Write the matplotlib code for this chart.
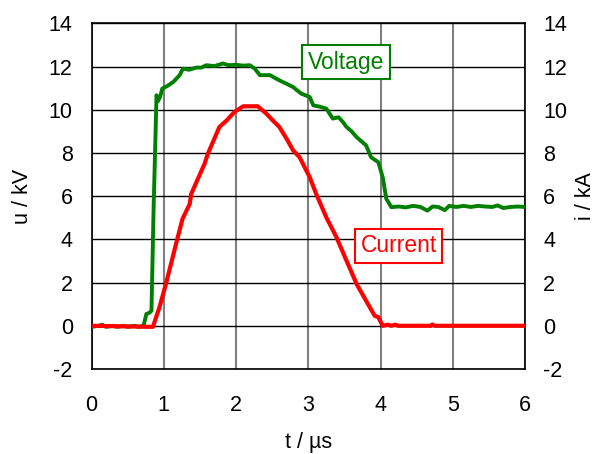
import matplotlib
matplotlib.use("Agg")
import matplotlib.pyplot as plt

plt.rcParams['font.family'] = ['Liberation Sans', 'DejaVu Sans']
plt.rcParams['axes.unicode_minus'] = False

# Voltage (kV) vs time (us)
t_v = [0.0, 0.1, 0.15, 0.2, 0.3, 0.35, 0.45, 0.5, 0.6, 0.65, 0.72, 0.76, 0.8, 0.83,
       0.86, 0.9, 0.92, 0.95, 0.98, 1.05, 1.13, 1.22, 1.265, 1.35, 1.45, 1.52, 1.59,
       1.7, 1.82, 1.9, 2.0, 2.1, 2.19, 2.26, 2.33, 2.47, 2.55, 2.6, 2.7, 2.79, 2.9,
       3.02, 3.07, 3.15, 3.25, 3.34, 3.42, 3.48, 3.53, 3.6, 3.67, 3.8, 3.87, 3.97,
       4.03, 4.08, 4.15, 4.25, 4.35, 4.45, 4.55, 4.65, 4.72, 4.8, 4.89, 4.95, 5.05,
       5.15, 5.25, 5.35, 5.45, 5.55, 5.62, 5.7, 5.8, 5.9, 6.0]
u_v = [-0.05, 0.0, 0.05, -0.05, 0.0, -0.05, 0.0, -0.05, 0.0, -0.05, 0.0, 0.55, 0.6, 0.7,
       5.5, 10.67, 10.4, 10.6, 10.98, 11.1, 11.28, 11.6, 11.9, 11.85, 11.95, 11.95, 12.06,
       12.02, 12.14, 12.06, 12.08, 12.04, 12.06, 11.9, 11.6, 11.6, 11.45, 11.36, 11.2, 11.05, 10.75,
       10.59, 10.2, 10.15, 10.05, 9.59, 9.65, 9.43, 9.2, 9.0, 8.73, 8.35, 7.8, 7.57,
       6.88, 5.88, 5.49, 5.52, 5.48, 5.55, 5.5, 5.33, 5.52, 5.5, 5.35, 5.55, 5.5,
       5.55, 5.5, 5.55, 5.52, 5.5, 5.57, 5.45, 5.5, 5.52, 5.5]

# Current (kA) vs time (us)
t_i = [0.0, 0.85, 0.94, 1.03, 1.17, 1.26, 1.36, 1.38, 1.565, 1.61, 1.77, 1.87, 1.98,
       2.10, 2.30, 2.42, 2.51, 2.60, 2.70, 2.79, 2.88, 3.02, 3.11, 3.25, 3.39, 3.53,
       3.67, 3.80, 3.92, 3.97, 4.03, 4.1, 4.15, 4.2, 4.25, 4.7, 4.72, 4.75, 6.0]
i_a = [0.0, -0.05, 0.85, 1.93, 3.79, 4.95, 5.64, 6.1, 7.5, 7.96, 9.2, 9.5, 9.9,
       10.16, 10.16, 9.82, 9.5, 9.2, 8.66, 8.12, 7.8, 6.88, 6.1, 5.02, 4.1, 3.01,
       1.93, 1.16, 0.46, 0.4, 0.0, 0.05, 0.0, 0.05, 0.0, 0.0, 0.06, 0.0, 0.0]

x_ticks = [0, 1, 2, 3, 4, 5, 6]
y_ticks = [-2, 0, 2, 4, 6, 8, 10, 12, 14]

fig = plt.figure(figsize=(5.99, 4.54), dpi=100)
ax = fig.add_axes([91.5 / 599, 1 - 369 / 454, (525 - 91.5) / 599, (369 - 23.3) / 454])

ax.set_xlim(0, 6)
ax.set_ylim(-2, 14)
ax.set_xticks(x_ticks)
ax.set_yticks(y_ticks)
for x in x_ticks:
    ax.axvline(x, color='#808080', lw=1.5, zorder=1)
for y in y_ticks:
    ax.axhline(y, color='black', lw=1.0, zorder=1)

ax.plot(t_v, u_v, color='#008000', lw=2.8, zorder=3)
ax.plot(t_i, i_a, color='#ff0000', lw=3.0, zorder=4)

fs = 15.5
ax.tick_params(axis='both', length=0, labelsize=fs)
ax.tick_params(axis='x', pad=18.5)
ax.tick_params(axis='y', pad=13.5)
for s in ax.spines.values():
    s.set_color('black')
    s.set_linewidth(1.2)

ax.set_xlabel('t / µs', fontsize=fs, labelpad=12)
ax.set_ylabel('u / kV', fontsize=fs, labelpad=11)

ax2 = ax.twinx()
ax2.set_ylim(-2, 14)
ax2.set_yticks(y_ticks)
ax2.tick_params(axis='y', length=0, labelsize=fs, pad=13)
ax2.set_ylabel('i / kA', fontsize=fs, labelpad=6)
for s in ax2.spines.values():
    s.set_visible(False)

ax.text(3.52, 12.2, 'Voltage', color='#008000', fontsize=16.5, ha='center', va='center', zorder=6,
        bbox=dict(boxstyle='square,pad=0.25', fc='white', ec='#008000', lw=1.5))
ax.text(4.25, 3.7, 'Current', color='#ff0000', fontsize=16.5, ha='center', va='center', zorder=6,
        bbox=dict(boxstyle='square,pad=0.25', fc='white', ec='#ff0000', lw=1.5))

fig.savefig('out.png', dpi=100)
